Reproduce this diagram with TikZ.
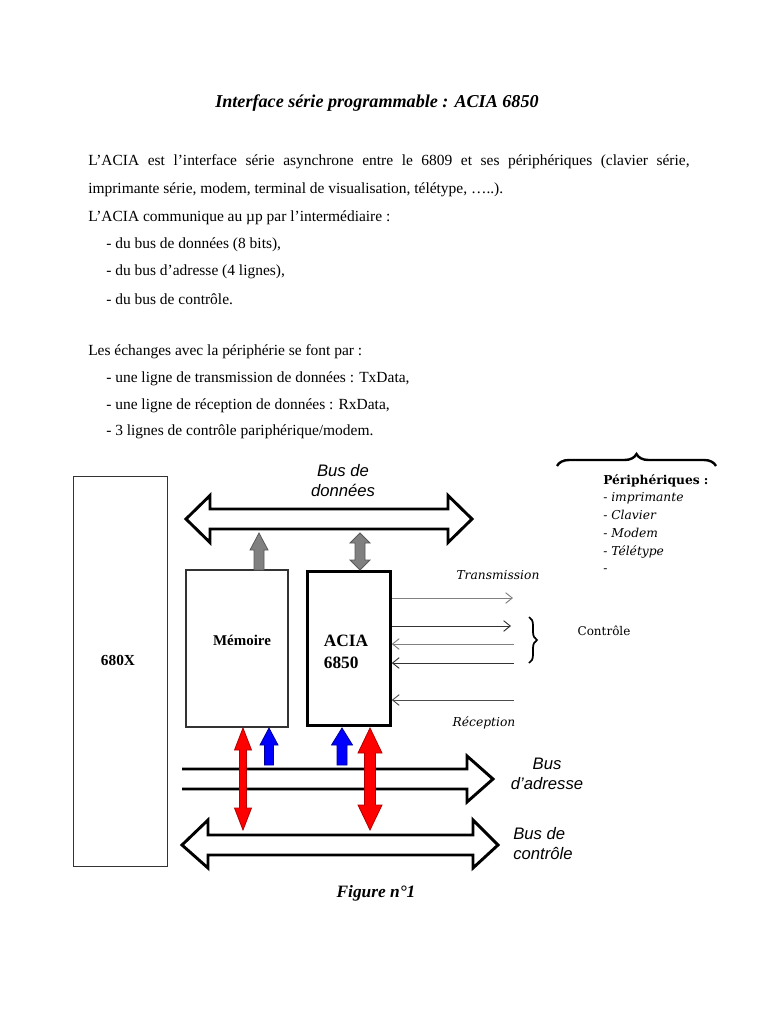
\documentclass[tikz,border=0pt]{standalone}
\usepackage{fontspec}
\setmainfont{Liberation Serif}
\newfontfamily\sansf{Liberation Sans}
\newfontfamily\dvs{DejaVu Serif}
\usetikzlibrary{decorations.pathreplacing,arrows.meta}
\begin{document}
\begin{tikzpicture}[x=0.75pt,y=-0.75pt,
  body/.style={anchor=west,inner sep=0pt,font=\fontsize{11.6}{13}\selectfont},
  busline/.style={draw=black,line width=2.2pt,fill=white,line join=miter},
  box/.style={draw=black!80,line width=0.8pt,inner sep=0pt},
  thinr/.style={line width=0.7pt,-{Straight Barb[length=5pt,width=8pt]}},
  thinl/.style={line width=0.7pt,{Straight Barb[length=5pt,width=8pt]}-},
  graya/.style={fill=black!50,draw=black!65,line width=0.6pt},
  bluea/.style={fill=blue,draw=blue!60!black,line width=0.6pt},
  reda/.style={fill=red,draw=red!70!black,line width=0.6pt},
  sanslab/.style={font=\sansf\itshape\fontsize{12.5}{15}\selectfont,inner sep=0pt},
  perlab/.style={font=\dvs\itshape\fontsize{9.2}{11}\selectfont,inner sep=0pt}]
\useasboundingbox[fill=white] (0,0) rectangle (768,1024);

% ---- text ----
\node[inner sep=0pt,font=\bfseries\itshape\fontsize{13.6}{16}\selectfont] (title) at (377,103) {Interface série programmable : ACIA 6850};
\node[body] (l1) at (88,162) {\makebox[451pt][s]{L’ACIA est l’interface série asynchrone entre le 6809 et ses périphériques (clavier série,}};
\node[body] (l2) at (88,190) {imprimante série, modem, terminal de visualisation, télétype, …..).};
\node[body] (l3) at (88,218) {L’ACIA communique au µp par l’intermédiaire :};
\node[body] (l4) at (106,245) {- du bus de données (8 bits),};
\node[body] (l5) at (106,272) {- du bus d’adresse (4 lignes),};
\node[body] (l6) at (106,299) {- du bus de contrôle.};
\node[body] (l7) at (88,352) {Les échanges avec la périphérie se font par :};
\node[body] (l8) at (106,379) {- une ligne de transmission de données : TxData,};
\node[body] (l9) at (106,406) {- une ligne de réception de données : RxData,};
\node[body] (l10) at (106,432) {- 3 lignes de contrôle pariphérique/modem.};

% ---- boxes ----
\node[box,minimum width=70pt,minimum height=292pt] (cpu) at (120.5,671.5) {};
\node[font=\bfseries\fontsize{11.5}{13}\selectfont,inner sep=0pt] (cpul) at (118,660) {680X};
\node[box,minimum width=76.5pt,minimum height=117.75pt] (mem) at (237,648.5) {};
\node[font=\bfseries\fontsize{11.2}{13}\selectfont,inner sep=0pt] (meml) at (242,640) {Mémoire};
\node[draw=black,line width=2.2pt,minimum width=62pt,minimum height=115.5pt,inner sep=0pt] (acia) at (349,648.5) {};
\node[font=\bfseries\fontsize{13}{16}\selectfont,align=left,inner sep=0pt] (acial) at (346,652) {ACIA\\6850};

% ---- data bus ----
\draw[busline] (186,519) -- (210,495.5) -- (210,509) -- (448,509) -- (448,495.5) -- (472,519)
  -- (448,542.5) -- (448,529) -- (210,529) -- (210,542.5) -- cycle;
\node[sanslab,align=center] (dbl) at (343,481) {Bus de\\données};

% gray arrows
\draw[graya] (254,570) -- (254,550) -- (250,550) -- (259,533) -- (268,550) -- (264,550) -- (264,570) -- cycle;
\draw[graya] (355,560) -- (350,560) -- (360,570) -- (370,560) -- (365,560) -- (365,543) -- (370,543) -- (360,533) -- (350,543) -- (355,543) -- cycle;

% ---- address bus ----
\draw[busline,fill=none] (182,769) -- (467,769) -- (467,756) -- (493,779) -- (467,802) -- (467,789) -- (182,789);
\node[sanslab,align=center] (abl) at (547,774) {Bus\\d’adresse};

% ---- control bus ----
\draw[busline] (182,845) -- (208,820) -- (208,835) -- (473,835) -- (473,820) -- (498,845)
  -- (473,868) -- (473,855) -- (208,855) -- (208,868) -- cycle;
\node[sanslab,align=left,anchor=west] (cbl) at (513,844) {Bus de\\contrôle};

% blue arrows
\draw[bluea] (264.5,765) -- (264.5,745) -- (260,745) -- (269,728) -- (278,745) -- (273.5,745) -- (273.5,765) -- cycle;
\draw[bluea] (337,765) -- (337,745) -- (331.5,745) -- (342,728) -- (352.5,745) -- (347,745) -- (347,765) -- cycle;

% red arrows
\draw[reda] (239.5,808) -- (234.5,808) -- (243,830) -- (251.5,808) -- (246.5,808) -- (246.5,750) -- (251.5,750) -- (243,728) -- (234.5,750) -- (239.5,750) -- cycle;
\draw[reda] (364.5,805) -- (358,805) -- (370,830) -- (382,805) -- (375.5,805) -- (375.5,753) -- (382,753) -- (370,728) -- (358,753) -- (364.5,753) -- cycle;

% ---- serial lines ----
\coordinate (t1) at (513,598);
\coordinate (t2) at (511,626);
\coordinate (r1) at (514,644);
\coordinate (r2) at (514,663);
\coordinate (r3) at (514,700);
\draw[thinr,black!50] (acia.east |- t1) -- (t1);
\draw[thinr,black!80] (acia.east |- t2) -- (t2);
\draw[thinl,black!50] (acia.east |- r1) -- (r1);
\draw[thinl,black!80] (acia.east |- r2) -- (r2);
\draw[thinl,black!70] (acia.east |- r3) -- (r3);
\node[perlab] (tx) at (498,575) {Transmission};
\node[perlab] (rx) at (484,723) {Réception};
\draw[line width=1.3pt,decorate,decoration={brace,amplitude=6pt}] (529,617) -- (529,663);
\node[font=\dvs\fontsize{9}{11}\selectfont,inner sep=0pt] (ctl) at (604,631) {Contrôle};

% ---- peripherals ----
\draw[line width=1.8pt,decorate,decoration={brace,amplitude=9pt}] (557,466) -- (716,466);
\node[perlab,anchor=north west,align=left,font=\dvs\itshape\fontsize{9.2}{13.3}\selectfont] (per) at (603,474)
  {{\upshape\bfseries Périphériques :}\\- imprimante\\- Clavier\\- Modem\\- Télétype\\-};

% ---- caption ----
\node[inner sep=0pt,font=\bfseries\itshape\fontsize{13}{15}\selectfont] (fig) at (376,893) {Figure n°1};
\end{tikzpicture}
\end{document}
